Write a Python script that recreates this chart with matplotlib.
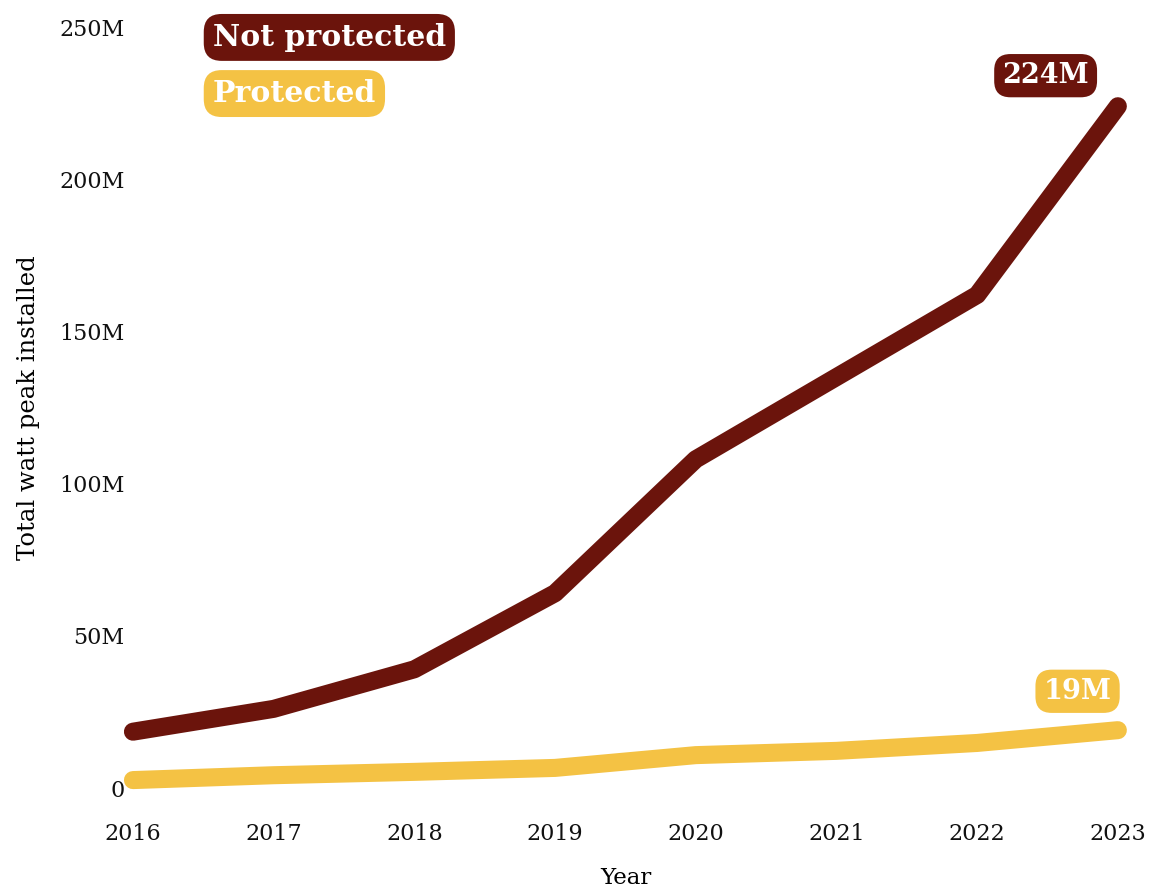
import matplotlib
matplotlib.use("Agg")
import matplotlib.pyplot as plt
from matplotlib.ticker import FuncFormatter

# ---------------------------------------------------------------------------
#  Data
# ---------------------------------------------------------------------------
years = [2016, 2017, 2018, 2019, 2020, 2021, 2022, 2023]
not_protected = [18.5e6, 26e6, 39e6, 64e6, 108e6, 135e6, 162e6, 224e6]
protected = [2.6e6, 4.2e6, 5.3e6, 6.6e6, 10.8e6, 12.2e6, 14.8e6, 19e6]

RED = "#6b140c"
YELLOW = "#f4c244"

plt.rcParams["font.family"] = ["DejaVu Serif"]

fig = plt.figure(figsize=(11.56, 8.91), dpi=100)
ax = fig.add_axes([0.115, 0.1156, 0.852, 0.854])

ax.plot(years, not_protected, color=RED, lw=13, solid_capstyle="round",
        solid_joinstyle="round", clip_on=False, zorder=3)
ax.plot(years, protected, color=YELLOW, lw=13, solid_capstyle="round",
        solid_joinstyle="round", clip_on=False, zorder=3)

ax.set_xlim(2016, 2023)
ax.set_ylim(0, 250e6)
ax.set_xticks(years)
ax.set_yticks([0, 50e6, 100e6, 150e6, 200e6, 250e6])
ax.yaxis.set_major_formatter(FuncFormatter(lambda v, p: "0" if v == 0 else f"{v/1e6:.0f}M"))
ax.tick_params(axis="both", length=0, labelsize=16, colors="#111111")
ax.tick_params(axis="x", pad=25)
ax.tick_params(axis="y", pad=6)
for s in ax.spines.values():
    s.set_visible(False)

ax.set_xlabel("Year", fontsize=16.5, labelpad=16)
ax.set_ylabel("Total watt peak installed", fontsize=17.5, labelpad=14)

pill = dict(fontsize=19.5, fontweight="bold", color="white")

# end-of-line value labels
ax.annotate("224M", xy=(years[-1], not_protected[-1]), xytext=(-52, 22),
            textcoords="offset points", ha="center", va="center", **pill,
            bbox=dict(boxstyle="round,pad=0.3,rounding_size=0.6", fc=RED, ec="none"))
ax.annotate("19M", xy=(years[-1], protected[-1]), xytext=(-29, 28),
            textcoords="offset points", ha="center", va="center", **pill,
            bbox=dict(boxstyle="round,pad=0.3,rounding_size=0.6", fc=YELLOW, ec="none"))

# legend pills
leg = dict(fontsize=21.5, fontweight="bold", color="white")
fig.text(0.184, 0.958, "Not protected", ha="left", va="center", **leg,
         bbox=dict(boxstyle="round,pad=0.3,rounding_size=0.6", fc=RED, ec="none"))
fig.text(0.184, 0.895, "Protected", ha="left", va="center", **leg,
         bbox=dict(boxstyle="round,pad=0.3,rounding_size=0.6", fc=YELLOW, ec="none"))

fig.savefig("out.png", dpi=100)
